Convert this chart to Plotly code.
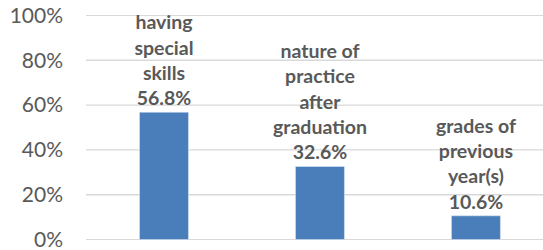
import plotly.graph_objects as go

categories = ["having special skills", "nature of practice after graduation", "grades of previous year(s)"]
label_lines = [["having", "special", "skills"], ["nature of", "practice", "after", "graduation"], ["grades of", "previous", "year(s)"]]
values = [56.8, 32.6, 10.6]
tick_vals = [0, 20, 40, 60, 80, 100]
tick_text = ["0%", "20%", "40%", "60%", "80%", "100%"]

texts = ["<br>".join(l + [f"{v:.1f}%"]) for l, v in zip(label_lines, values)]

fig = go.Figure(go.Bar(
    x=categories, y=values, text=texts, textposition="outside",
    textfont=dict(family="Lato", size=19.5, color="#595959", weight="bold"),
    marker=dict(color="#4a7ebb"), width=0.314, cliponaxis=False,
    constraintext="none", hoverinfo="skip",
))
for tv in tick_vals:
    fig.add_shape(type="line", xref="paper", x0=0, x1=1, yref="y", y0=tv, y1=tv,
                  line=dict(color="#d9d9d9", width=1.3), layer="below")
fig.update_layout(
    width=543, height=250, margin=dict(l=86, r=0, t=15, b=10, autoexpand=False),
    plot_bgcolor="white", paper_bgcolor="white", showlegend=False,
    xaxis=dict(range=[-0.5, 2.43], showticklabels=False, showgrid=False, zeroline=False,
               showline=False, ticks="", automargin=False),
    yaxis=dict(range=[-0.2, 100.2], tickvals=tick_vals, ticktext=tick_text, showgrid=False,
               zeroline=False, showline=False, automargin=False,
               ticklabeloverflow="allow",
               tickfont=dict(family="Lato", size=21, color="#595959"), ticklabelstandoff=22),
)
fig.write_html("out.html", config={"displayModeBar": False},
               post_script="document.body.style.margin='0';document.body.style.overflow='hidden';")
